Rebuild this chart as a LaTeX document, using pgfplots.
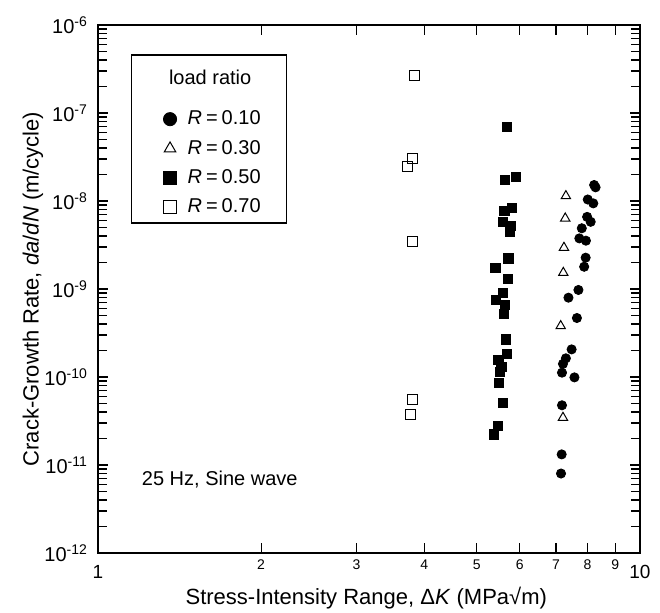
\documentclass[border=0pt]{standalone}
\usepackage{fontspec}
\setmainfont{Liberation Sans}
\usepackage{pgfplots}
\usepackage{pgfplotstable}
\pgfplotsset{compat=1.18}

\pgfplotstableread{
x y
8.23 1.52e-8
8.28 1.43e-8
8.01 1.04e-8
8.20 9.4e-9
7.99 6.6e-9
8.11 5.8e-9
7.81 4.9e-9
7.73 3.76e-9
7.95 3.54e-9
7.94 2.27e-9
7.89 1.79e-9
7.70 9.75e-10
7.38 7.97e-10
7.65 4.68e-10
7.48 2.06e-10
7.30 1.63e-10
7.21 1.41e-10
7.18 1.12e-10
7.57 9.9e-11
7.18 4.77e-11
7.17 1.32e-11
7.15 8.0e-12
}\rA

\pgfplotstableread{
x y
7.30 1.14e-8
7.28 6.35e-9
7.24 2.95e-9
7.22 1.53e-9
7.14 3.8e-10
7.21 3.45e-11
}\rB

\pgfplotstableread{
x y
5.68 7.0e-8
5.64 1.73e-8
5.91 1.86e-8
5.62 7.7e-9
5.80 8.3e-9
5.59 5.8e-9
5.78 5.2e-9
5.76 4.5e-9
5.72 2.23e-9
5.41 1.75e-9
5.71 1.29e-9
5.58 9.1e-10
5.43 7.5e-10
5.64 6.6e-10
5.60 5.2e-10
5.66 2.68e-10
5.68 1.82e-10
5.48 1.56e-10
5.55 1.31e-10
5.52 1.15e-10
5.50 8.5e-11
5.58 5.1e-11
5.46 2.77e-11
5.38 2.23e-11
}\rC

\pgfplotstableread{
x y
3.83 2.7e-7
3.81 3.06e-8
3.73 2.45e-8
3.81 3.45e-9
3.81 5.6e-11
3.78 3.7e-11
}\rD

\begin{document}
\begin{tikzpicture}
\begin{axis}[
  name=ax,
  scale only axis, width=271pt, height=264pt,
  xmode=log, ymode=log,
  xmin=1, xmax=10, ymin=1e-12, ymax=1e-6,
  xtick={1,2,3,4,5,6,7,8,9,10},
  xticklabels={{\fontsize{9.5}{11}\selectfont\rule{0pt}{9pt}1},2,3,4,5,6,7,8,9,{\fontsize{9.5}{11}\selectfont\rule{0pt}{9pt}10}},
  xminorticks=false,
  ytick={1e-12,1e-11,1e-10,1e-9,1e-8,1e-7,1e-6},
  yticklabels={10\textsuperscript{-12},10\textsuperscript{-11},10\textsuperscript{-10},10\textsuperscript{-9},10\textsuperscript{-8},10\textsuperscript{-7},10\textsuperscript{-6}},
  minor ytick={2e-12,3e-12,4e-12,5e-12,6e-12,7e-12,8e-12,9e-12,
               2e-11,3e-11,4e-11,5e-11,6e-11,7e-11,8e-11,9e-11,
               2e-10,3e-10,4e-10,5e-10,6e-10,7e-10,8e-10,9e-10,
               2e-9,3e-9,4e-9,5e-9,6e-9,7e-9,8e-9,9e-9,
               2e-8,3e-8,4e-8,5e-8,6e-8,7e-8,8e-8,9e-8,
               2e-7,3e-7,4e-7,5e-7,6e-7,7e-7,8e-7,9e-7},
  tick align=inside,
  major tick length=5pt, minor tick length=4.5pt,
  every tick/.style={black, line width=0.6pt},
  axis line style={line width=0.75pt},
  xticklabel style={font=\fontsize{7}{8.5}\selectfont},
  yticklabel style={font=\fontsize{10}{12}\selectfont, xshift=-1.5pt},
  xlabel={Stress-Intensity Range, Δ\textit{K} (MPa√m)},
  ylabel={Crack-Growth Rate, \textit{da}/\textit{dN} (m/cycle)},
  label style={font=\fontsize{11}{13}\selectfont},
  xlabel style={at={(axis description cs:0.495,-0.085)}, anchor=center},
  ylabel style={at={(axis description cs:-0.12,0.5)}, anchor=center},
  legend style={at={(axis description cs:0.12,0.8385)}, anchor=north west,
    draw=none, fill=none,
    font=\fontsize{10}{12}\selectfont,
    inner xsep=0pt, inner ysep=0pt, row sep=6.2pt, column sep=5.5pt,
    nodes={inner sep=0pt}},
  legend cell align=left,
  legend image code/.code={\draw[mark repeat=2,mark phase=2] plot coordinates {(0pt,0pt) (6pt,0pt) (12pt,0pt)};},
  legend image post style={mark size=3.3pt},
]
\draw[line width=0.6pt] (axis description cs:0.062,0.943) rectangle (axis description cs:0.348,0.625);
\node[anchor=center, font=\fontsize{10}{12}\selectfont] at (axis description cs:0.207,0.9015) {load ratio};

\addplot[only marks, mark=*, mark size=2.3pt, mark options={draw=black, fill=black}] table {\rA};
\addlegendentry{\textit{R}\hspace{0.2em}=\hspace{0.2em}0.10}
\addplot[only marks, mark=triangle, mark size=2.7pt, mark options={draw=black, fill=white, line width=0.5pt}] table {\rB};
\addlegendentry{\textit{R}\hspace{0.2em}=\hspace{0.2em}0.30}
\addplot[only marks, mark=square*, mark size=2.3pt, mark options={draw=black, fill=black}] table {\rC};
\addlegendentry{\textit{R}\hspace{0.2em}=\hspace{0.2em}0.50}
\addplot[only marks, mark=square, mark size=2.5pt, mark options={draw=black, fill=white, line width=0.5pt}] table {\rD};
\addlegendentry{\textit{R}\hspace{0.2em}=\hspace{0.2em}0.70}

\node[anchor=west, font=\fontsize{10}{12}\selectfont] at (axis description cs:0.068,0.14) {25 Hz, Sine wave};
\end{axis}
\pgfresetboundingbox
\path ([xshift=-49pt,yshift=-30pt]ax.south west) rectangle ([xshift=10pt,yshift=12.5pt]ax.north east);
\end{tikzpicture}
\end{document}
